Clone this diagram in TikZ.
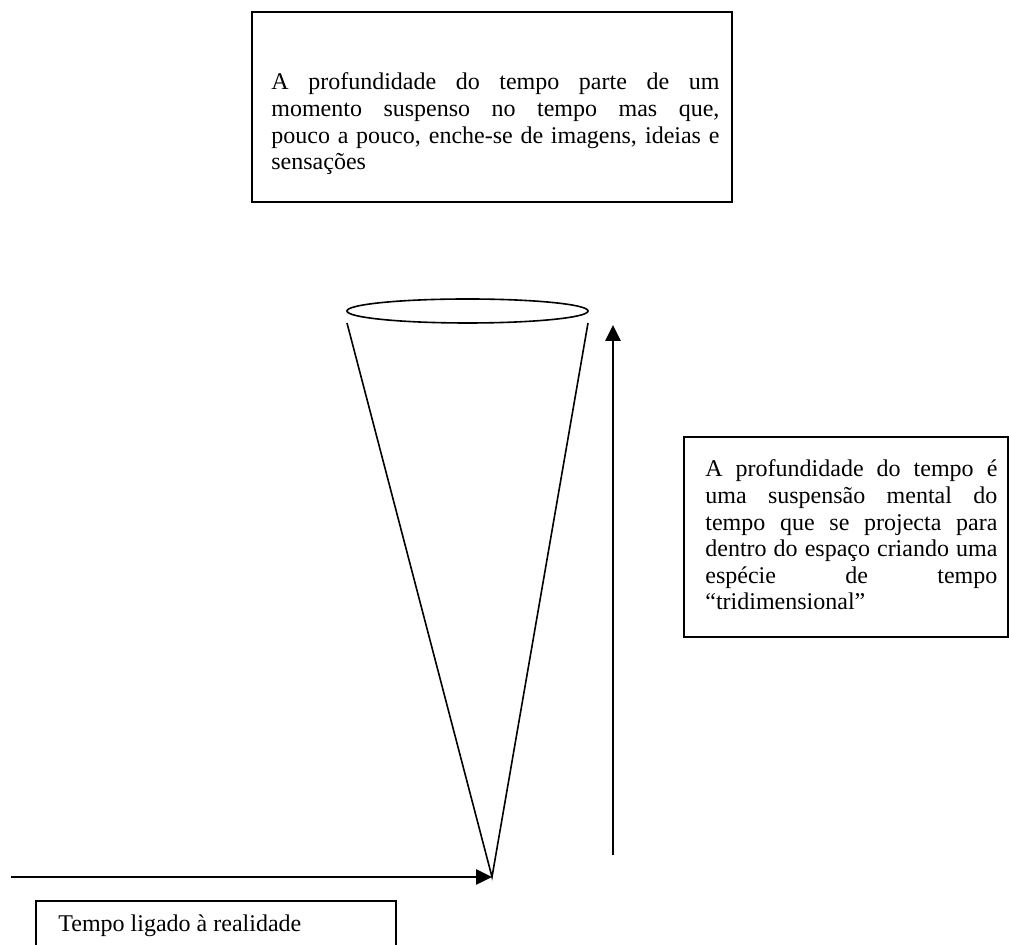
\documentclass[tikz,border=0pt]{standalone}
\usepackage{fontspec}
\setmainfont{Liberation Serif}
\usetikzlibrary{arrows.meta}
\tikzset{
  framebox/.style={draw=black, line width=1pt, inner sep=0pt},
  boxtext/.style={inner sep=0pt, align=left, font=\fontsize{12pt}{13.3pt}\selectfont},
  timearrow/.style={line width=1.3pt, -{Triangle[length=8pt,width=7.5pt]}},
  conestroke/.style={line width=0.8pt}
}
\newcommand{\jline}[2]{{\spaceskip=0pt\xspaceskip=0pt\makebox[#1][s]{#2}}}
\begin{document}
\begin{tikzpicture}[x=0.5pt,y=-0.5pt]
\useasboundingbox (0,0) rectangle (1009,945);
% top box
\node[framebox, minimum width=240pt, minimum height=95pt] (topbox) at (492,107) {};
\node[boxtext, text width=226pt, anchor=base west] (toptext) at (271,90)
  {\jline{224pt}{A profundidade do tempo parte de um}\\
   \jline{224pt}{momento suspenso no tempo mas que,}\\
   \jline{224pt}{pouco a pouco, enche-se de imagens, ideias e}\\
   sensações};
% cone
\draw[conestroke] (467.5,311) ellipse [x radius=60.25pt, y radius=6pt];
\coordinate (rimL) at (347,323);
\coordinate (rimR) at (588,323);
\coordinate (tip) at (492,877);
\draw[conestroke] (rimL) -- (tip) -- (rimR);
% vertical arrow
\coordinate (vstart) at (613,855);
\coordinate (vend) at (613,325);
\draw[timearrow] (vstart) -- (vend);
% horizontal arrow
\coordinate (hstart) at (11,877);
\draw[timearrow] (hstart) -- (tip);
% right box
\node[framebox, minimum width=162pt, minimum height=100pt] (rightbox) at (846,537) {};
\node[boxtext, text width=148pt, anchor=base west] (righttext) at (705,477)
  {\jline{146pt}{A profundidade do tempo é}\\
   \jline{146pt}{uma suspensão mental do}\\
   \jline{146pt}{tempo que se projecta para}\\
   \jline{146pt}{dentro do espaço criando uma}\\
   \jline{146pt}{espécie de tempo}\\
   “tridimensional”};
% bottom box
\node[framebox, minimum width=180pt, minimum height=40pt] (bottombox) at (216,941) {};
\node[boxtext, anchor=base west] (bottomtext) at (58,932) {Tempo ligado à realidade};
\end{tikzpicture}
\end{document}
